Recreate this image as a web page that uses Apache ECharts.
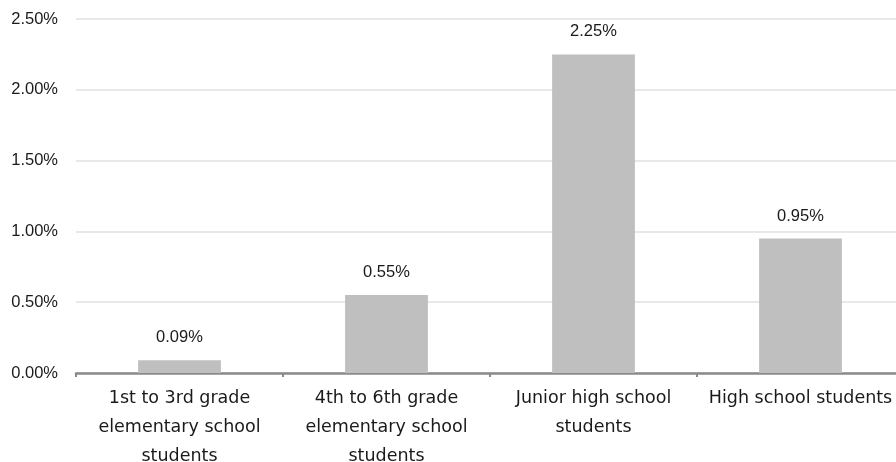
<!DOCTYPE html>
<html><head><meta charset="utf-8">
<script src="https://cdn.jsdelivr.net/npm/echarts@6/dist/echarts.min.js"></script>
<style>html,body{margin:0;padding:0;background:#fff}#c{width:896px;height:462px}</style>
</head><body><div id="c"></div>
<script>
const categories = [
  "1st to 3rd grade\nelementary school\nstudents",
  "4th to 6th grade\nelementary school\nstudents",
  "Junior high school\nstudents",
  "High school students"
];
const values = [0.09, 0.55, 2.25, 0.95];
const yTicks = [0, 0.5, 1.0, 1.5, 2.0, 2.5];

const XFONT = '"DejaVu Sans", sans-serif';
const YFONT = '"Liberation Sans", Arial, sans-serif';
const chart = echarts.init(document.getElementById('c'), null, {renderer: 'canvas'});
chart.setOption({
  animation: false,
  grid: {left: 76, right: -8, top: 19, bottom: 89, containLabel: false, outerBoundsMode: 'none'},
  xAxis: {
    type: 'category', data: categories,
    axisLine: {lineStyle: {color: '#8a8a8a', width: 2.5}},
    axisTick: {show: true, alignWithLabel: false, length: 4, lineStyle: {color: '#8a8a8a', width: 2}},
    axisLabel: {color: '#1a1a1a', fontFamily: XFONT, fontSize: 17.5, lineHeight: 29, margin: 11, interval: 0}
  },
  yAxis: {
    type: 'value', min: yTicks[0], max: yTicks[yTicks.length-1], interval: 0.5,
    axisLine: {show: false}, axisTick: {show: false},
    splitLine: {lineStyle: {color: '#e0e0e0', width: 1.5}},
    axisLabel: {color: '#1a1a1a', fontFamily: YFONT, fontSize: 16.5, margin: 18,
      formatter: v => v.toFixed(2) + '%'}
  },
  series: [{
    type: 'bar', data: values, barWidth: '40%',
    itemStyle: {color: '#bfbfbf'},
    label: {show: true, position: 'top', distance: 14, color: '#1a1a1a', fontFamily: YFONT, fontSize: 16.5,
      formatter: p => p.value.toFixed(2) + '%'}
  }]
});
</script></body></html>
